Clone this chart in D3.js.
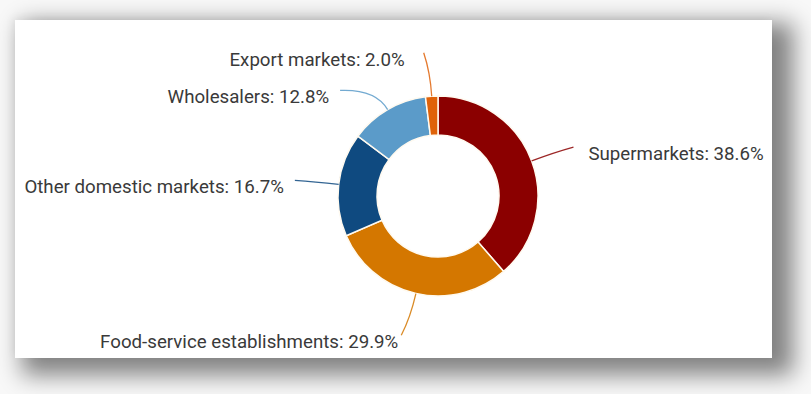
<!DOCTYPE html>
<html>
<head>
<meta charset="utf-8">
<script src="https://cdn.jsdelivr.net/npm/d3@7"></script>
<style>
  html, body { margin: 0; padding: 0; }
  body { width: 811px; height: 394px; background: #f8f8f8; overflow: hidden; position: relative; }
  #card {
    position: absolute; left: 15px; top: 20px; width: 757px; height: 338px;
    background: #fff;
    box-shadow: 14px 10px 22px 7px rgba(0,0,0,0.48), -3px -3px 8px rgba(0,0,0,0.04);
  }
  svg { position: absolute; left: 0; top: 0; }
  text { font-family: Roboto, "Noto Sans", sans-serif; font-size: 18.7px; fill: #3a3a3a; }
</style>
</head>
<body>
<div id="card"></div>
<script>
// Sales channel shares, clockwise from 12 o'clock
const categories = ["Supermarkets", "Food-service establishments", "Other domestic markets", "Wholesalers", "Export markets"];
const shares = [38.6, 29.9, 16.7, 12.8, 2.0];
const colors = ["#8b0000", "#d47700", "#0f4a80", "#5b9bc9", "#df6209"];

// Label layout: angular nudge (degrees) of the leader end, horizontal gap to the text
const labelLayout = [
  { nudge: 0.7, gap: 15 },
  { nudge: 2.0, gap: -3 },
  { nudge: -0.4, gap: -11 },
  { nudge: -12.6, gap: -11 },
  { nudge: -2.1, gap: -19 }
];

const W = 811, H = 394;
const cx = 438, cy = 196;
const rOuter = 100, rInner = 61;

const data = categories.map((c, i) => ({ name: c, value: shares[i], color: colors[i], layout: labelLayout[i] }));

const svg = d3.select("body").append("svg").attr("width", W).attr("height", H);
const g = svg.append("g").attr("transform", `translate(${cx},${cy})`);

const pie = d3.pie().sort(null).value(d => d.value);
const arc = d3.arc().innerRadius(rInner).outerRadius(rOuter);
const arcs = pie(data);

g.selectAll("path.slice")
  .data(arcs)
  .join("path")
  .attr("class", "slice")
  .attr("d", arc)
  .attr("fill", d => d.data.color)
  .attr("stroke", "#fffaf0")
  .attr("stroke-width", 1.5);

const polar = (r, a) => [r * Math.sin(a), -r * Math.cos(a)];

arcs.forEach(d => {
  const mid = (d.startAngle + d.endAngle) / 2;
  const s = polar(rOuter, mid);
  const c = polar(124, mid);
  const e = polar(144, mid + d.data.layout.nudge * Math.PI / 180);
  const path = d3.path();
  path.moveTo(s[0], s[1]);
  path.quadraticCurveTo(c[0], c[1], e[0], e[1]);
  g.append("path")
    .attr("d", path.toString())
    .attr("fill", "none")
    .attr("stroke", d.data.color)
    .attr("stroke-width", 1.3)
    .attr("stroke-opacity", 0.85);

  const right = e[0] > 0;
  g.append("text")
    .attr("x", e[0] + d.data.layout.gap)
    .attr("y", e[1] + 13)
    .attr("text-anchor", right ? "start" : "end")
    .text(`${d.data.name}: ${d.data.value.toFixed(1)}%`);
});
</script>
</body>
</html>
